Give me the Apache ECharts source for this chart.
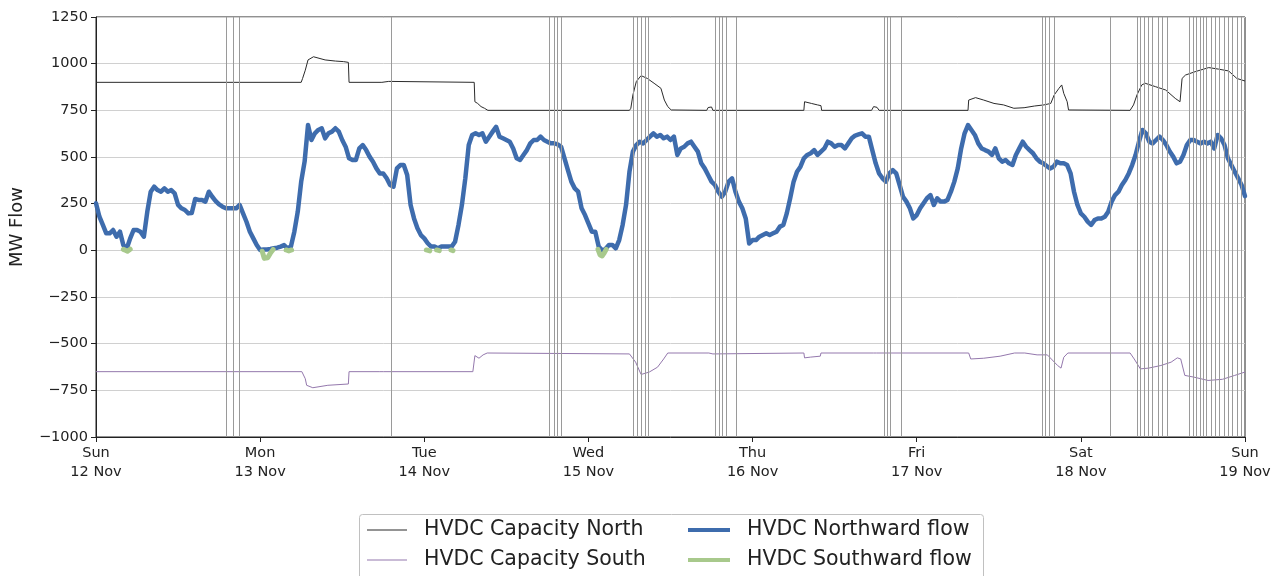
<!DOCTYPE html>
<html>
<head>
<meta charset="utf-8">
<script src="https://cdn.jsdelivr.net/npm/echarts@6/dist/echarts.min.js"></script>
<style>
  html, body { margin: 0; padding: 0; background: #fff; }
  #chart { width: 1288px; height: 576px; }
</style>
</head>
<body>
<div id="chart"></div>
<script>
// x axis is hours since Sun 12 Nov 00:00
const dayLabels = ['Sun\n12 Nov', 'Mon\n13 Nov', 'Tue\n14 Nov', 'Wed\n15 Nov', 'Thu\n16 Nov', 'Fri\n17 Nov', 'Sat\n18 Nov', 'Sun\n19 Nov'];

// northward flow, one value every half hour
const flowStepHours = 0.5;
const northFlow = [
  // Sun
  252,180,136,91,91,109,73,100,28,10,64,109,109,100,73,207,314,341,323,314,332,314,323,305,
  243,225,216,198,200,275,270,270,261,314,287,264,246,234,225,225,225,225,243,198,153,100,64,29,
  // Mon
  2,5,5,7,11,14,20,28,11,20,100,207,368,475,671,591,627,645,654,600,627,636,654,636,
  591,555,493,484,484,546,564,537,502,475,439,412,412,386,350,341,439,457,457,404,243,171,118,82,
  // Tue
  64,38,20,20,11,20,20,20,20,46,136,243,386,564,618,627,618,627,582,609,636,662,609,600,
  591,582,546,493,484,511,537,573,591,591,609,591,582,573,573,568,555,493,430,368,332,314,225,189,
  // Wed
  145,100,100,20,0,7,29,29,11,55,136,243,421,529,564,582,573,591,609,627,609,618,600,609,
  591,609,511,546,555,573,582,555,529,466,439,404,368,350,314,287,314,368,386,314,261,225,171,37,
  // Thu
  55,55,73,82,91,82,91,100,127,136,198,279,368,421,448,493,511,520,537,511,529,546,582,573,
  555,564,564,546,573,600,615,621,627,609,609,537,466,412,386,368,412,430,412,350,287,261,225,171,
  // Fri
  189,225,252,279,296,243,279,261,261,270,314,368,439,546,627,671,645,618,573,546,537,529,511,546,
  493,475,484,466,457,511,546,582,555,537,520,493,475,466,452,439,448,475,466,466,457,412,314,243,
  // Sat
  198,180,154,136,162,171,171,180,207,261,296,314,350,377,412,457,511,582,645,627,582,573,591,609,
  591,564,529,502,466,475,511,564,591,591,582,573,582,573,582,546,618,600,564,493,457,421,386,350,
  // Sun 19 Nov 00:00
  290
];

// southward flow: short stretches near zero, null breaks the line
const southFlow = [
  [4.0, 5], [4.3, 0], [4.6, -5], [5.0, 6], null,
  [24.3, -5], [24.6, -43], [25.1, -40], [25.5, -15], [25.9, 5], null,
  [27.8, 2], [28.2, -3], [28.6, 2], null,
  [48.3, 2], [48.8, -3], null,
  [49.8, 2], [50.2, -2], null,
  [51.9, 2], [52.2, -2], null,
  [73.4, 5], [73.7, -25], [74.0, -30], [74.3, -15], [74.6, 5]
];

// [hour, MW]
const capacityNorth = [
  [0, 900], [30.0, 900], [30.2, 920], [30.6, 965], [31.0, 1020], [31.8, 1037], [33.5, 1020], [35.0, 1014],
  [36.2, 1011], [36.9, 1007], [37.0, 900], [41.8, 900], [42.0, 907], [42.8, 905], [43.0, 900],
  [55.3, 900], [55.4, 796], [55.8, 787], [56.3, 770], [56.8, 761], [57.3, 750],
  [78.0, 750], [78.2, 761], [78.5, 832], [79.0, 904], [79.7, 936], [80.6, 921], [81.6, 895], [82.6, 868],
  [83.1, 805], [83.6, 770], [84.1, 752], [84.3, 750], [89.3, 750], [89.5, 765], [90.0, 768], [90.2, 750],
  [103.5, 750], [103.6, 796], [104.6, 787], [105.5, 779], [106.0, 775], [106.1, 750],
  [113.4, 750], [113.7, 770], [114.2, 766], [114.5, 750],
  [127.5, 750], [127.6, 805], [128.6, 818], [129.8, 805], [131.3, 787], [132.7, 779], [134.2, 761],
  [135.7, 764], [137.2, 773], [138.6, 779], [139.6, 787], [140.1, 832], [140.8, 868], [141.2, 886],
  [141.5, 841], [142.0, 796], [142.2, 752], [142.3, 750],
  [151.2, 750], [151.7, 779], [152.2, 832], [152.9, 886], [153.4, 895], [154.9, 877], [156.4, 859],
  [157.8, 814], [158.5, 796], [158.7, 800], [158.8, 921], [159.3, 939], [160.7, 957], [162.7, 979],
  [164.1, 971], [165.6, 961], [166.8, 921], [168, 907]
];

const capacitySouth = [
  [0, -650], [30.1, -650], [30.6, -688], [30.8, -723], [31.7, -736], [33.9, -723], [36.9, -716], [37.0, -650],
  [41.5, -650], [41.7, -655], [42.0, -650], [55.1, -650], [55.4, -564], [56.0, -578], [56.6, -560], [57.2, -550],
  [78.0, -555], [78.9, -599], [79.7, -665], [80.9, -652], [82.1, -626], [83.0, -582], [83.6, -550],
  [89.6, -550], [89.7, -560], [90.2, -555], [90.3, -550],
  [103.5, -550], [103.6, -576], [104.5, -572], [105.9, -567], [106.0, -550],
  [113.7, -550], [113.8, -560], [114.1, -550],
  [127.6, -550], [127.9, -582], [129.8, -578], [132.2, -567], [134.3, -550], [135.8, -550], [137.6, -560],
  [139.1, -560], [140.6, -617], [141.1, -631], [141.5, -573], [142.1, -550],
  [151.2, -550], [151.8, -582], [152.7, -635], [153.9, -631], [155.7, -617], [157.2, -599], [158.1, -576],
  [158.6, -582], [159.2, -670], [160.5, -679], [162.6, -697], [164.7, -691], [166.5, -670], [168, -652]
];

// grey vertical marker times (hours)
const markerHours = [
  19.0, 20.1, 21.0, 43.1,
  66.2, 67.0, 67.5, 68.0,
  78.6, 79.1, 79.7, 80.3, 80.7,
  90.6, 91.1, 91.6, 92.1, 93.6,
  115.2, 115.7, 116.2, 117.8,
  138.3, 138.8, 139.4, 140.1,
  148.3, 152.3, 152.7, 153.2, 153.8, 154.4, 155.3, 155.9, 156.7,
  159.9, 160.4, 160.9, 161.4, 161.9, 162.4, 163.0, 163.6, 164.2, 164.9, 165.5, 166.1, 166.8, 167.4
];

const northPairs = northFlow.map((v, i) => [i * flowStepHours, v]);

const FONT = 'DejaVu Sans';
const chart = echarts.init(document.getElementById('chart'), null, { renderer: 'canvas' });

const legendText = { fontSize: 20.5, color: '#222', fontFamily: FONT, lineHeight: 22, padding: [0, 0, 0, 12] };

chart.setOption({
  animation: false,
  backgroundColor: '#fff',
  textStyle: { fontFamily: FONT },
  grid: { left: 94, right: 43, top: 17, bottom: 139, show: true, borderColor: '#222', borderWidth: 1, backgroundColor: 'transparent' },
  xAxis: {
    type: 'value', min: 0, max: 168, interval: 24,
    axisLine: { show: true, onZero: false, lineStyle: { color: '#222', width: 1 } },
    axisTick: { show: true, length: 5, lineStyle: { color: '#222' } },
    splitLine: { show: false },
    axisLabel: {
      color: '#222', fontSize: 14.5, fontFamily: FONT, lineHeight: 19, margin: 7,
      formatter: v => dayLabels[Math.round(v / 24)] || ''
    }
  },
  yAxis: {
    type: 'value', min: -1000, max: 1250, interval: 250,
    name: 'MW Flow', nameLocation: 'middle', nameGap: 70,
    nameTextStyle: { fontSize: 18, color: '#222', fontFamily: FONT },
    axisLine: { show: true, onZero: false, lineStyle: { color: '#222', width: 1 } },
    axisTick: { show: true, length: 5, lineStyle: { color: '#222' } },
    splitLine: { show: true, lineStyle: { color: '#d0d0d0', width: 1 } },
    axisLabel: {
      color: '#222', fontSize: 14.5, fontFamily: FONT, margin: 8,
      formatter: v => String(v).replace('-', '\u2212')
    }
  },
  graphic: [{
    type: 'rect', left: 359, top: 514, z: 0,
    shape: { width: 624, height: 80, r: 3 },
    style: { fill: '#fff', stroke: '#c0c0c0', lineWidth: 1 }
  }],
  legend: [{
    orient: 'vertical', left: 367, top: 519, height: 60, padding: 0, z: 10,
    icon: 'rect', itemWidth: 40, itemHeight: 1.2, itemGap: 8,
    textStyle: legendText,
    data: ['HVDC Capacity North', 'HVDC Capacity South']
  }, {
    orient: 'vertical', left: 688, top: 519, height: 60, padding: 0, z: 10,
    icon: 'rect', itemWidth: 42, itemHeight: 4, itemGap: 8,
    textStyle: legendText,
    data: ['HVDC Northward flow', 'HVDC Southward flow']
  }],
  series: [{
    name: 'HVDC Capacity North', type: 'line', data: capacityNorth,
    showSymbol: false, symbol: 'none', color: '#2b2b2b',
    lineStyle: { width: 1, color: '#2b2b2b' },
    markLine: {
      silent: true, symbol: 'none', label: { show: false },
      lineStyle: { color: '#9a9a9a', width: 1, type: 'solid' },
      data: markerHours.map(h => ({ xAxis: h }))
    }
  }, {
    name: 'HVDC Capacity South', type: 'line', data: capacitySouth,
    showSymbol: false, symbol: 'none', color: '#9478ad',
    lineStyle: { width: 1, color: '#9478ad' }
  }, {
    name: 'HVDC Northward flow', type: 'line', data: northPairs,
    showSymbol: false, symbol: 'none', color: '#3e6cad',
    lineStyle: { width: 4.5, color: '#3e6cad', join: 'round', cap: 'round' }
  }, {
    name: 'HVDC Southward flow', type: 'line', data: southFlow, connectNulls: false,
    showSymbol: false, symbol: 'none', color: '#a8c98c',
    lineStyle: { width: 5, color: '#a8c98c', join: 'round', cap: 'round' }
  }]
});
</script>
</body>
</html>
